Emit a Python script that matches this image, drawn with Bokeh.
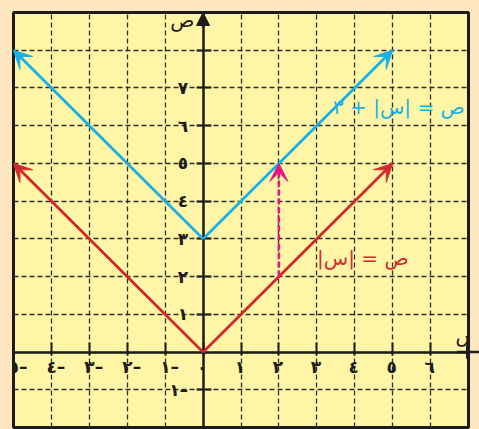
from bokeh.plotting import figure
from bokeh.models import (Range1d, FixedTicker, SingleIntervalTicker, Arrow,
                          VeeHead, NormalHead, ColumnDataSource, Label)
from bokeh.core.properties import value
from bokeh.embed import file_html
from bokeh.resources import INLINE

# ---- data ----
x_ticks = [-5, -4, -3, -2, -1, 0, 1, 2, 3, 4, 5, 6]
x_tick_labels = ["٥–", "٤–", "٣–", "٢–", "١–", "٠", "١", "٢", "٣", "٤", "٥", "٦"]
y_ticks = [-1, 1, 2, 3, 4, 5, 6, 7, 8]
y_tick_labels = ["١–", "١", "٢", "٣", "٤", "٥", "٦", "٧", ""]
xs = [-5, 0, 5]
abs_y = [5, 0, 5]            # ص = |س|
abs_plus3_y = [8, 3, 8]      # ص = |س| + ٣
shift_x = [2]
shift_from = [2]
shift_to = [5]
RLM = "\u200f"
eq_text = ["ص = |س| + ٣" + RLM, "ص = |س|" + RLM]
eq_x = [6.9, 5.42]
eq_y = [6.5, 2.5]

PAPER = "#fef6a6"
OUTER = "#fde6c0"
RED = "#d52a2c"
BLUE = "#1ab0e8"
MAGENTA = "#e3177f"
INK = "#1e1c1a"
FONT = "DejaVu Sans"

X0, X1, Y0, Y1 = -5, 7, -2, 9

p = figure(frame_width=455, frame_height=415,
           x_range=Range1d(X0, X1), y_range=Range1d(Y0, Y1),
           output_backend="svg", toolbar_location=None,
           min_border_left=13, min_border_top=12, min_border_right=11, min_border_bottom=2,
           background_fill_color=PAPER, border_fill_color=OUTER,
           outline_line_color=INK, outline_line_width=3)

# grid
for g in (p.xgrid, p.ygrid):
    g.ticker = SingleIntervalTicker(interval=1)
    g.grid_line_color = "#2e2e2e"
    g.grid_line_dash = "5 3"
    g.grid_line_width = 1.3

# axes through the origin
xa = p.xaxis[0]
xa.fixed_location = 0
xa.ticker = FixedTicker(ticks=x_ticks)
xa.major_tick_in = 10
xa.major_tick_out = 3
xa.major_label_text_color = None   # labels drawn below as text (digit centred on tick)

ya = p.yaxis[0]
ya.fixed_location = 0
ya.ticker = FixedTicker(ticks=y_ticks)
ya.major_label_overrides = dict(zip(y_ticks, y_tick_labels))
ya.major_tick_in = 8
ya.major_tick_out = 7
ya.major_label_standoff = 8
ya.major_label_orientation = "horizontal"
ya.major_label_text_font = FONT
ya.major_label_text_font_size = "17px"
ya.major_label_text_font_style = "bold"
ya.major_label_text_color = INK

for a in (xa, ya):
    a.axis_line_color = INK
    a.axis_line_width = 2.5
    a.major_tick_line_color = INK
    a.major_tick_line_width = 2
    a.minor_tick_line_color = None

# x tick labels: negative ones read "digit –", digit sits on the tick
neg = [i for i, t in enumerate(x_ticks) if t < 0]
nonneg = [i for i, t in enumerate(x_ticks) if t >= 0]
p.text(x=[x_ticks[i] for i in neg], y=[0] * len(neg), text=[x_tick_labels[i] for i in neg],
       text_color=INK, text_font=value(FONT), text_font_size="17px", text_font_style="bold",
       text_align="left", text_baseline="middle", x_offset=-5, y_offset=15)
p.text(x=[x_ticks[i] for i in nonneg], y=[0] * len(nonneg), text=[x_tick_labels[i] for i in nonneg],
       text_color=INK, text_font=value(FONT), text_font_size="17px", text_font_style="bold",
       text_align="center", text_baseline="middle", x_offset=-1, y_offset=15)

# axis arrows
p.add_layout(Arrow(end=NormalHead(size=13, fill_color=INK, line_color=INK),
                   x_start=X1 - 0.3, y_start=0, x_end=X1 + 0.29, y_end=0,
                   line_color=INK, line_width=2.5))
p.add_layout(Arrow(end=NormalHead(size=13, fill_color=INK, line_color=INK),
                   x_start=0, y_start=Y1 - 0.4, x_end=0, y_end=Y1,
                   line_color=INK, line_width=2.5))

# V-shaped graphs with arrowheads
for ys, col in ((abs_y, RED), (abs_plus3_y, BLUE)):
    p.line(xs, ys, line_color=col, line_width=2.5)
    src = ColumnDataSource(dict(x0=[xs[1], xs[1]], y0=[ys[1], ys[1]],
                                x1=[xs[0], xs[-1]], y1=[ys[0], ys[-1]]))
    p.add_layout(Arrow(end=VeeHead(size=18, fill_color=col, line_color=col, line_width=1),
                       source=src, x_start="x0", y_start="y0", x_end="x1", y_end="y1",
                       line_color=col, line_width=2.5))

# vertical shift arrow
ssrc = ColumnDataSource(dict(x0=shift_x, y0=shift_from, x1=shift_x, y1=shift_to))
p.add_layout(Arrow(end=VeeHead(size=18, fill_color=MAGENTA, line_color=MAGENTA, line_width=1),
                   source=ssrc, x_start="x0", y_start="y0", x_end="x1", y_end="y1",
                   line_color=MAGENTA, line_width=2.5, line_dash="6 3"))

# equations
p.text(x=eq_x[:1], y=eq_y[:1], text=eq_text[:1], text_color=BLUE,
       text_font=value(FONT), text_font_size="20px",
       text_align="right", text_baseline="middle")
p.text(x=eq_x[1:], y=eq_y[1:], text=eq_text[1:], text_color=RED,
       text_font=value(FONT), text_font_size="20px",
       text_align="right", text_baseline="middle")

# axis names
p.add_layout(Label(x=-0.55, y=8.8, text="ص", text_font=FONT, text_font_size="20px",
                   text_color=INK, text_align="center", text_baseline="middle"))
p.add_layout(Label(x=6.98, y=0.45, text="س", text_font=FONT, text_font_size="20px",
                   text_color=INK, text_align="center", text_baseline="middle"))

html = file_html(p, INLINE)
html = html.replace("<head>", "<head><style>body{background:%s;}</style>" % OUTER, 1)
open("out.html", "w").write(html)
